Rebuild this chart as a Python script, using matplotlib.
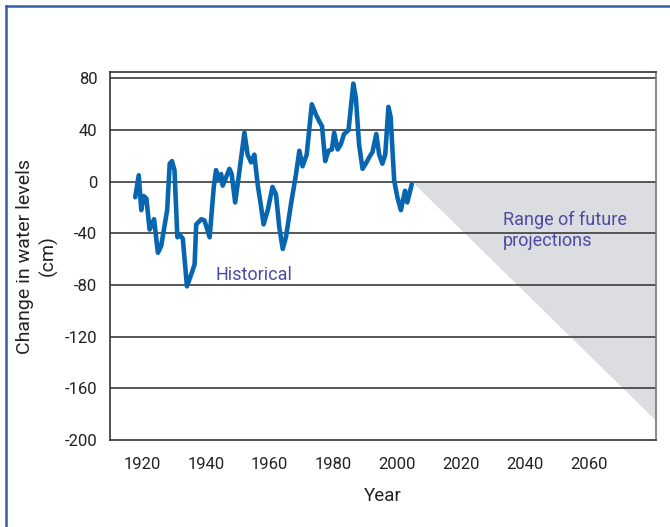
import numpy as np
import matplotlib
matplotlib.use("Agg")
import matplotlib.pyplot as plt
from matplotlib.lines import Line2D

plt.rcParams['font.family'] = ['Roboto', 'DejaVu Sans']
plt.rcParams['axes.unicode_minus'] = False

# historical record
years = [1917.9, 1919.0, 1919.8, 1920.5, 1921.4, 1922.4, 1923.8, 1925.0, 1926.0,
         1927.9, 1928.7, 1929.4, 1930.2, 1931.1, 1931.8, 1932.8, 1934.1, 1935.4,
         1936.5, 1937.0, 1938.6, 1939.6, 1941.2, 1942.5, 1943.2, 1944.0, 1944.8,
         1945.3, 1945.8, 1947.4, 1948.1, 1949.2, 1950.2, 1952.1, 1953.1, 1954.2,
         1955.2, 1956.3, 1957.3, 1958.1, 1959.4, 1960.9, 1962.0, 1963.0, 1964.1,
         1965.1, 1966.7, 1968.2, 1969.3, 1970.3, 1971.6, 1973.2, 1974.5, 1975.5,
         1976.4, 1977.4, 1978.4, 1979.5, 1980.2, 1981.3, 1982.3, 1983.3, 1984.7,
         1986.2, 1987.0, 1988.0, 1989.1, 1990.1, 1991.2, 1992.2, 1993.4, 1994.3,
         1995.3, 1996.2, 1997.2, 1997.9, 1999.0, 2000.0, 2001.1, 2002.4, 2003.1,
         2004.5]
levels = [-12, 5, -22, -11, -13, -37, -29, -55, -50,
          -22, 14, 16, 9, -43, -41, -44, -81, -72,
          -64, -33, -29, -30, -43, -4, 9, 2, 6,
          -3, 0, 10, 6, -16, 2, 38, 21, 15,
          21, -3, -19, -33, -22, -4, -10, -35, -52,
          -43, -17, 5, 24, 12, 21, 60, 52, 47,
          43, 16, 24, 25, 38, 25, 29, 37, 40,
          76, 65, 29, 10, 14, 19, 23, 37, 21,
          14, 21, 58, 50, 1, -12, -22, -7, -16,
          -2]

# projection wedge
proj_years = [2004.6, 2081.0]
proj_top = [0, 0]
proj_bottom = [0, -185]

yticks = [80, 40, 0, -40, -80, -120, -160, -200]
xticks = [1920, 1940, 1960, 1980, 2000, 2020, 2040, 2060]

fig = plt.figure(figsize=(6.7, 5.27), dpi=100)
ax = fig.add_axes([110/670, 1 - 440/527, 546/670, 368/527])

ax.fill_between(proj_years, proj_bottom, proj_top, color='#dcdde1', lw=0, zorder=1)
for v in yticks[:-1]:
    ax.axhline(v, color='#4a4a4a', lw=1.3, zorder=2)
ax.plot(years, levels, color='#0866b0', lw=3.3, solid_joinstyle='round',
        solid_capstyle='round', zorder=3)

ax.set_xlim(1910, 2081)
ax.set_ylim(-200, 85)
ax.set_xticks(xticks)
ax.set_yticks(yticks)
ax.tick_params(length=0, labelsize=12, colors='#222222')
ax.tick_params(axis='y', pad=9)
ax.tick_params(axis='x', pad=12)

for s in ['left', 'top', 'bottom']:
    ax.spines[s].set_color('#333333')
    ax.spines[s].set_linewidth(1.2)
ax.spines['right'].set_color('#777777')
ax.spines['right'].set_linewidth(1.2)

ax.set_xlabel('Year', fontsize=13.5, color='#222222', labelpad=11)
ax.set_ylabel('Change in water levels\n(cm)', fontsize=14, color='#222222',
              linespacing=1.3)
ax.yaxis.set_label_coords(-52/546, 0.5)

ax.text(1955, -72, 'Historical', color='#4b4ba6', fontsize=13,
        ha='center', va='center', zorder=4)
ax.text(2033, -38, 'Range of future\nprojections', color='#4b4ba6', fontsize=13,
        ha='left', va='center', linespacing=1.2, zorder=4)

# blue frame around the figure
fig.add_artist(Line2D([5.5/670, 5.5/670], [0, 1 - 5.5/527], color='#2f5fa5', lw=1.8))
fig.add_artist(Line2D([5.5/670, 1], [1 - 5.5/527, 1 - 5.5/527], color='#2f5fa5', lw=1.8))

fig.savefig('out.png', dpi=100)
